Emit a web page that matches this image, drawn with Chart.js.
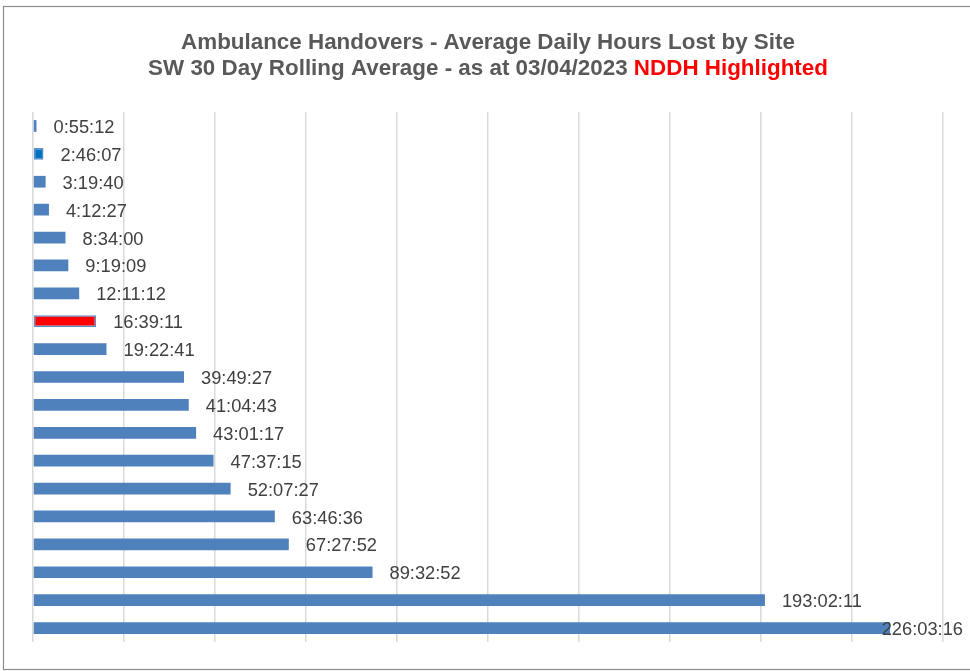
<!DOCTYPE html>
<html>
<head>
<meta charset="utf-8">
<title>Ambulance Handovers - Average Daily Hours Lost by Site</title>
<script src="https://cdn.jsdelivr.net/npm/chart.js@4/dist/chart.umd.min.js"></script>
<style>
  html, body { margin: 0; padding: 0; background: #ffffff; }
  #chart { display: block; }
</style>
</head>
<body>
<canvas id="chart" width="970" height="671"></canvas>
<script>
// Sites, top to bottom (names are not shown on the chart)
const categories = [
  'Site 1', 'Site 2', 'Site 3', 'Site 4', 'Site 5', 'Site 6', 'Site 7',
  'NDDH', 'Site 9', 'Site 10', 'Site 11', 'Site 12', 'Site 13', 'Site 14',
  'Site 15', 'Site 16', 'Site 17', 'Site 18', 'Site 19'
];

// Average daily hours lost, as h:mm:ss
const handoverTimes = [
  '0:55:12', '2:46:07', '3:19:40', '4:12:27', '8:34:00', '9:19:09', '12:11:12',
  '16:39:11', '19:22:41', '39:49:27', '41:04:43', '43:01:17', '47:37:15',
  '52:07:27', '63:46:36', '67:27:52', '89:32:52', '193:02:11', '226:03:16'
];

// Bar fill per site (NDDH highlighted in red)
const barFills = [
  '#4F81BD', '#0070C0', '#4F81BD', '#4F81BD', '#4F81BD', '#4F81BD', '#4F81BD',
  '#FF0000', '#4F81BD', '#4F81BD', '#4F81BD', '#4F81BD', '#4F81BD', '#4F81BD',
  '#4F81BD', '#4F81BD', '#4F81BD', '#4F81BD', '#4F81BD'
];

// Outline only on bars whose fill differs from the standard blue
const barOutlines = [
  0, 1.5, 0, 0, 0, 0, 0,
  1.5, 0, 0, 0, 0, 0, 0,
  0, 0, 0, 0, 0
];

// Hour axis: one gridline per day
const axisMaxHours = 240;
const gridStepHours = 24;

const titleLine1 = 'Ambulance Handovers - Average Daily Hours Lost by Site';
const titleLine2 = 'SW 30 Day Rolling Average - as at 03/04/2023 ';
const titleHighlight = 'NDDH Highlighted';

function toHours(text) {
  const [h, m, s] = text.split(':').map(Number);
  return h + m / 60 + s / 3600;
}

const hoursLost = handoverTimes.map(toHours);

// Outer frame and the two-line title
const framePlugin = {
  id: 'frameAndTitle',
  beforeDraw(chart) {
    const ctx = chart.ctx;
    ctx.save();
    ctx.fillStyle = '#ffffff';
    ctx.fillRect(0, 0, chart.width, chart.height);
    ctx.strokeStyle = '#8c8c8c';
    ctx.lineWidth = 1.2;
    ctx.strokeRect(3.5, 6.5, chart.width + 20, chart.height - 8);
    ctx.restore();
  },
  afterDraw(chart) {
    const ctx = chart.ctx;
    const cx = 488;
    ctx.save();
    ctx.font = 'bold 22.4px "Liberation Sans", Arial, sans-serif';
    ctx.textBaseline = 'alphabetic';
    ctx.fillStyle = '#595959';
    ctx.textAlign = 'center';
    ctx.fillText(titleLine1, cx, 49);
    const w2a = ctx.measureText(titleLine2).width;
    const w2b = ctx.measureText(titleHighlight).width;
    const start = cx - (w2a + w2b) / 2;
    ctx.textAlign = 'left';
    ctx.fillText(titleLine2, start, 75);
    ctx.fillStyle = '#FF0000';
    ctx.fillText(titleHighlight, start + w2a, 75);
    ctx.restore();
  }
};

// Value labels just past the end of each bar, kept inside the frame
const valueLabelPlugin = {
  id: 'valueLabels',
  afterDatasetsDraw(chart) {
    const ctx = chart.ctx;
    const bars = chart.getDatasetMeta(0).data;
    ctx.save();
    ctx.font = '18.3px "Liberation Sans", Arial, sans-serif';
    ctx.fillStyle = '#404040';
    ctx.textBaseline = 'middle';
    ctx.textAlign = 'left';
    bars.forEach((bar, i) => {
      const text = handoverTimes[i];
      const w = ctx.measureText(text).width;
      const x = Math.min(bar.x + 17, chart.width - 7 - w);
      ctx.fillText(text, x, bar.y + 2);
    });
    ctx.restore();
  }
};

new Chart(document.getElementById('chart'), {
  type: 'bar',
  data: {
    labels: categories,
    datasets: [{
      data: hoursLost,
      backgroundColor: barFills,
      borderColor: '#5B8CCB',
      borderWidth: barOutlines,
      borderSkipped: false,
      barPercentage: 0.42,
      categoryPercentage: 1
    }]
  },
  options: {
    indexAxis: 'y',
    responsive: false,
    animation: false,
    layout: { padding: { left: 33, right: 27, top: 112, bottom: 29 } },
    plugins: {
      legend: { display: false },
      title: { display: false },
      tooltip: { enabled: false }
    },
    scales: {
      x: {
        min: 0,
        max: axisMaxHours,
        ticks: { display: false, stepSize: gridStepHours },
        grid: { color: '#d9d9d9', lineWidth: 1.5, drawTicks: false },
        border: { display: false }
      },
      y: { display: false }
    }
  },
  plugins: [framePlugin, valueLabelPlugin]
});
</script>
</body>
</html>
